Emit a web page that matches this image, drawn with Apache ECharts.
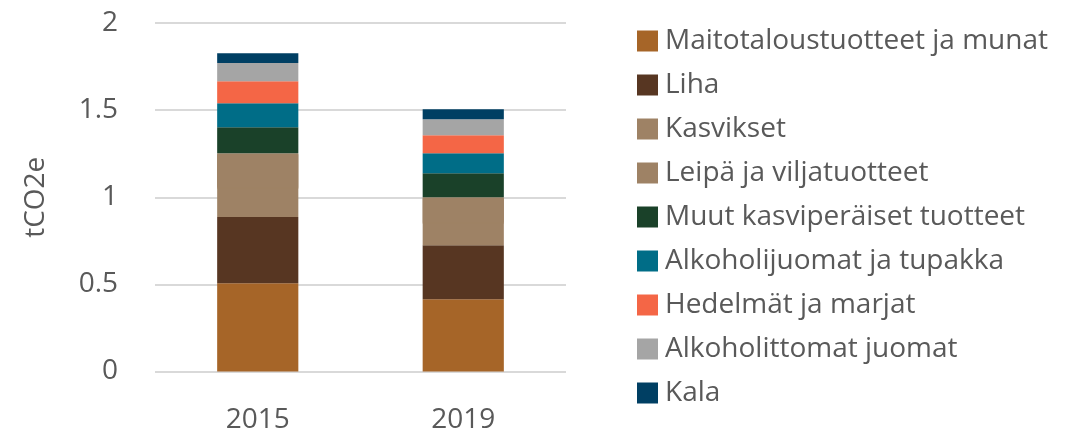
<!DOCTYPE html>
<html>
<head>
<meta charset="utf-8">
<script src="https://cdn.jsdelivr.net/npm/echarts@6/dist/echarts.min.js"></script>
<style>
  html, body { margin: 0; padding: 0; background: #fff; }
  #chart { width: 1089px; height: 437px; }
</style>
</head>
<body>
<div id="chart"></div>
<script>
var years = ['2015', '2019']
var seriesNames = [
  'Maitotaloustuotteet ja munat',
  'Liha',
  'Kasvikset',
  'Leipä ja viljatuotteet',
  'Muut kasviperäiset tuotteet',
  'Alkoholijuomat ja tupakka',
  'Hedelmät ja marjat',
  'Alkoholittomat juomat',
  'Kala'
]
// arvot tCO2e, vuodet 2015 ja 2019
var maito = [0.507, 0.415]
var liha = [0.379, 0.310]
var kasvikset = [0.17, 0.13]
var leipa = [0.197, 0.145]
var muut = [0.149, 0.138]
var alkoholi = [0.138, 0.115]
var hedelmat = [0.126, 0.103]
var alkoholittomat = [0.105, 0.092]
var kala = [0.056, 0.057]
var yTicks = [0, 0.5, 1, 1.5, 2]

var colors = ['#A66528', '#573622', '#9E8265', '#9E8265', '#1A4129', '#006D87', '#F46646', '#A5A5A5', '#003F63']
var values = [maito, liha, kasvikset, leipa, muut, alkoholi, hedelmat, alkoholittomat, kala]
var fontName = 'Open Sans'

var myChart = echarts.init(document.getElementById('chart'))
myChart.setOption({
  animation: false,
  textStyle: { fontFamily: fontName },
  grid: {
    left: 155,
    right: 1089 - 566,
    top: 23,
    bottom: 437 - 371.5
  },
  legend: {
    orient: 'vertical',
    left: 632,
    top: 21,
    icon: 'rect',
    itemWidth: 21,
    itemHeight: 21,
    itemGap: 14,
    selectedMode: false,
    data: seriesNames,
    itemStyle: { shadowOffsetY: 0, shadowColor: 'rgba(0,0,0,0)' },
    textStyle: {
      color: '#595959',
      fontSize: 28,
      fontFamily: fontName,
      lineHeight: 30,
      padding: [0, 0, 0, 2]
    }
  },
  xAxis: {
    type: 'category',
    data: years,
    axisLine: { show: false },
    axisTick: { show: false },
    axisLabel: {
      color: '#595959',
      fontSize: 28,
      margin: 35
    }
  },
  yAxis: {
    type: 'value',
    min: yTicks[0],
    max: yTicks[yTicks.length - 1],
    interval: 0.5,
    name: 'tCO2e',
    nameLocation: 'middle',
    nameGap: 105,
    nameTextStyle: { color: '#595959', fontSize: 28 },
    axisLine: { show: false },
    axisTick: { show: false },
    axisLabel: {
      color: '#595959',
      fontSize: 28,
      margin: 37
    },
    splitLine: { lineStyle: { color: '#D9D9D9', width: 2 } }
  },
  series: seriesNames.map(function (name, i) {
    var style = { color: colors[i] }
    // Leipä samaa väriä kuin Kasvikset: 1px varjo peittää saumaviivan
    if (i === 3) {
      style.shadowColor = colors[i]
      style.shadowBlur = 0
      style.shadowOffsetY = 1
    }
    return {
      name: name,
      type: 'bar',
      stack: 'total',
      barWidth: '39.5%',
      itemStyle: style,
      data: values[i]
    }
  })
})
</script>
</body>
</html>
